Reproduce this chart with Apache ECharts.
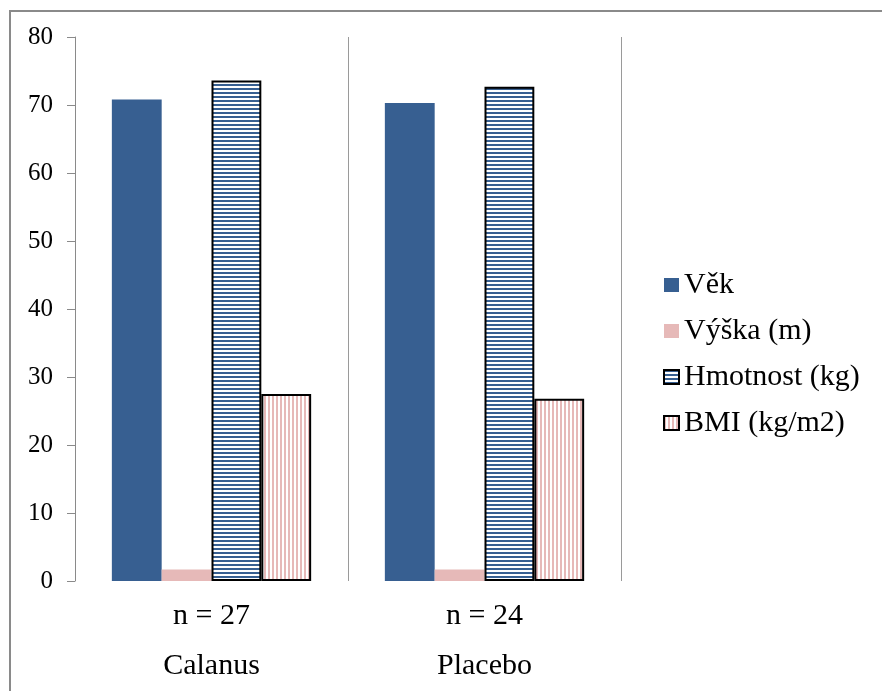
<!DOCTYPE html>
<html>
<head>
<meta charset="utf-8">
<script src="https://cdn.jsdelivr.net/npm/echarts@6/dist/echarts.min.js"></script>
<style>
  html, body { margin: 0; padding: 0; background: #fff; }
  #chart { width: 882px; height: 691px; }
</style>
</head>
<body>
<div id="chart"></div>
<script>
// Groups and their sample sizes (second label line)
const groups = ['Calanus', 'Placebo'];
const groupSizes = ['n = 27', 'n = 24'];

// Mean values per group
const vek = [70.8, 70.3];
const vyska = [1.7, 1.7];
const hmotnost = [73.6, 72.7];
const bmi = [27.5, 26.8];

// Value axis range
const yMin = 0;
const yMax = 80;
const yStep = 10;

const seriesNames = ['Věk', 'Výška (m)', 'Hmotnost (kg)', 'BMI (kg/m2)'];

const BLUE = '#375F91';
const PINK = '#E6B9B8';
const FONT = '"Liberation Serif", "Times New Roman", serif';

// Striped fills built on small tiles
function stripeTile(horizontal, ink) {
  const c = document.createElement('canvas');
  c.width = 4; c.height = 4;
  const g = c.getContext('2d');
  g.fillStyle = '#ffffff';
  g.fillRect(0, 0, 4, 4);
  g.fillStyle = ink;
  if (horizontal) g.fillRect(0, 0, 4, 2);
  else g.fillRect(0, 0, 2, 4);
  return { image: c, repeat: 'repeat' };
}

const chart = echarts.init(document.getElementById('chart'), null, { renderer: 'canvas' });

chart.setOption({
  animation: false,
  backgroundColor: '#ffffff',
  textStyle: { fontFamily: FONT },
  graphic: [{
    type: 'rect',
    shape: { x: 10, y: 11, width: 900, height: 720 },
    style: { fill: 'none', stroke: '#8a8a8a', lineWidth: 2 },
    silent: true,
    z: 100
  }],
  grid: { left: 75, right: 261, top: 37, bottom: 110, containLabel: false },
  legend: {
    orient: 'vertical',
    left: 658,
    top: 265,
    itemWidth: 15,
    itemHeight: 14,
    itemGap: 16,
    icon: 'rect',
    data: seriesNames,
    textStyle: { fontFamily: FONT, fontSize: 30, color: '#000', lineHeight: 30 }
  },
  xAxis: {
    type: 'category',
    data: groups,
    axisLine: { show: false },
    axisTick: { show: false },
    splitLine: { show: true, lineStyle: { color: '#9a9a9a', width: 1 } },
    axisLabel: {
      margin: 10,
      fontFamily: FONT,
      fontSize: 30,
      color: '#000',
      lineHeight: 50,
      formatter: function (v, i) { return groupSizes[i] + '\n' + v; }
    }
  },
  yAxis: {
    type: 'value',
    min: yMin,
    max: yMax,
    interval: yStep,
    axisLine: { show: true, lineStyle: { color: '#8a8a8a', width: 1 } },
    axisTick: { show: true, inside: false, length: 8, lineStyle: { color: '#8a8a8a' } },
    splitLine: { show: false },
    axisLabel: { margin: 22, fontFamily: FONT, fontSize: 25, color: '#000' }
  },
  series: [
    {
      name: seriesNames[0], type: 'bar', data: vek,
      barGap: '0%', barCategoryGap: '27%',
      itemStyle: { color: BLUE }
    },
    {
      name: seriesNames[1], type: 'bar', data: vyska,
      itemStyle: { color: PINK }
    },
    {
      name: seriesNames[2], type: 'bar', data: hmotnost,
      itemStyle: { color: stripeTile(true, BLUE), borderColor: '#000', borderWidth: 2 }
    },
    {
      name: seriesNames[3], type: 'bar', data: bmi,
      itemStyle: { color: stripeTile(false, PINK), borderColor: '#000', borderWidth: 2 }
    }
  ]
});
</script>
</body>
</html>
